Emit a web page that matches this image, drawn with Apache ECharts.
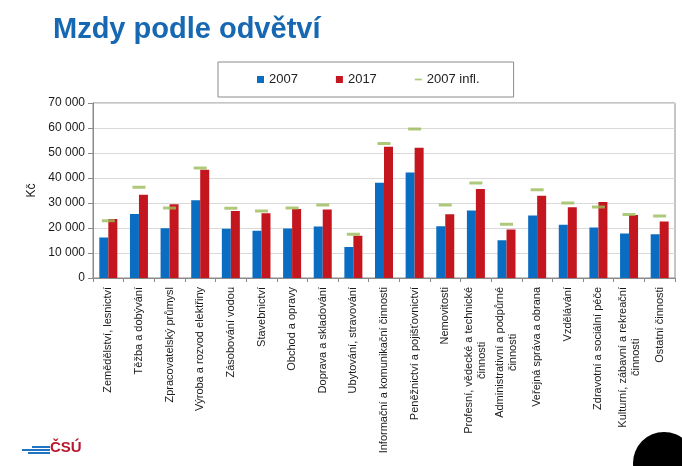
<!DOCTYPE html>
<html>
<head>
<meta charset="utf-8">
<script src="https://cdn.jsdelivr.net/npm/echarts@6/dist/echarts.min.js"></script>
<style>
  html, body { margin: 0; padding: 0; background: #fff; }
  #chart { width: 682px; height: 466px; }
</style>
</head>
<body>
<div id="chart"></div>
<script>
// odvětví
var categories = [
  'Zemědělství, lesnictví', 'Těžba a dobývání', 'Zpracovatelský průmysl',
  'Výroba a rozvod elektřiny', 'Zásobování vodou', 'Stavebnictví',
  'Obchod a opravy', 'Doprava a skladování', 'Ubytování, stravování',
  'Informační a komunikační činnosti', 'Peněžnictví a pojišťovnictví', 'Nemovitosti',
  'Profesní, vědecké a technické\nčinnosti', 'Administrativní a podpůrné\nčinnosti',
  'Veřejná správa a obrana', 'Vzdělávání', 'Zdravotní a sociální péče',
  'Kulturní, zábavní a rekreační\nčinnosti', 'Ostatní činnosti'
];
var mzdy2007 = [16200, 25600, 19900, 31100, 19700, 18900, 19800, 20600, 12400,
  38100, 42200, 20700, 27000, 15100, 25000, 21300, 20200, 17800, 17500];
var mzdy2017 = [23600, 33300, 29500, 43300, 26800, 25900, 27600, 27400, 16900,
  52500, 52100, 25500, 35600, 19400, 32900, 28300, 30400, 25200, 22600];
var mzdy2007infl = [22900, 36300, 28000, 44000, 27900, 26800, 28000, 29200, 17500,
  53800, 59600, 29200, 38000, 21500, 35300, 30000, 28400, 25400, 24800];
var yTicks = [0, 10000, 20000, 30000, 40000, 50000, 60000, 70000];

var chart = echarts.init(document.getElementById('chart'));

function fmt(v) {
  // mezera jako oddělovač tisíců
  return String(v).replace(/\B(?=(\d{3})+(?!\d))/g, ' ');
}

var option = {
  animation: false,
  textStyle: { fontFamily: 'Liberation Sans, Arial, sans-serif' },
  title: {
    text: 'Mzdy podle odvětví',
    left: 48,
    top: 10,
    textStyle: { color: '#1668b2', fontSize: 29, fontWeight: 'bold' }
  },
  legend: {
    left: 218,
    top: 62,
    padding: [11, 34, 11, 39],
    borderColor: '#8a8a8a',
    borderWidth: 1,
    itemWidth: 7,
    itemHeight: 7,
    itemGap: 38,
    textStyle: { fontSize: 13, color: '#222' },
    data: [
      { name: '2007', icon: 'rect' },
      { name: '2017', icon: 'rect' },
      { name: '2007 infl.', icon: 'path://M0,0L8,0L8,2L0,2Z' }
    ]
  },
  grid: {
    left: 93,
    right: 7,
    top: 103,
    bottom: 188,
    show: true,
    borderColor: '#8a8a8a',
    borderWidth: 1
  },
  xAxis: {
    type: 'category',
    data: categories,
    axisLine: { lineStyle: { color: '#8a8a8a' } },
    axisTick: { show: true, length: 4, lineStyle: { color: '#8a8a8a' } },
    axisLabel: {
      interval: 0,
      rotate: 90,
      margin: 9,
      color: '#1a1a1a',
      fontSize: 11,
      formatter: function (v) {
        return v.split('\n').map(function (s) { return '{c|' + s + '}'; }).join('\n');
      },
      rich: { c: { align: 'center', fontSize: 11, lineHeight: 13, color: '#1a1a1a' } }
    }
  },
  yAxis: {
    type: 'value',
    min: yTicks[0],
    max: yTicks[yTicks.length - 1],
    interval: 10000,
    name: 'Kč',
    nameLocation: 'middle',
    nameGap: 49,
    nameRotate: 90,
    nameTextStyle: { color: '#1a1a1a', fontSize: 12 },
    axisLine: { show: true, lineStyle: { color: '#8a8a8a' } },
    axisTick: { show: true, length: 5, lineStyle: { color: '#8a8a8a' } },
    axisLabel: { color: '#1a1a1a', fontSize: 12, margin: 8, formatter: fmt },
    splitLine: { lineStyle: { color: '#d9d9d9' } }
  },
  series: [
    {
      name: '2007',
      type: 'bar',
      data: mzdy2007,
      barWidth: 9,
      barGap: '0%',
      itemStyle: { color: '#0a6dc2' }
    },
    {
      name: '2017',
      type: 'bar',
      data: mzdy2017,
      barWidth: 9,
      barGap: '0%',
      itemStyle: { color: '#c3161f' }
    },
    {
      name: '2007 infl.',
      type: 'scatter',
      data: mzdy2007infl,
      symbol: 'rect',
      symbolSize: [13, 3],
      itemStyle: { color: '#9bbb59' },
      z: 5
    }
  ],
  graphic: [
    // logo ČSÚ
    { type: 'rect', shape: { x: 32, y: 446, width: 18, height: 2 }, style: { fill: '#1f74c4' } },
    { type: 'rect', shape: { x: 22, y: 449, width: 28, height: 2 }, style: { fill: '#1f74c4' } },
    { type: 'rect', shape: { x: 28, y: 452, width: 22, height: 2 }, style: { fill: '#1f74c4' } },
    { type: 'text', left: 50, top: 440, style: { text: 'ČSÚ', fill: '#b8172f', font: 'bold 15px Liberation Sans, Arial, sans-serif' } },
    // černý kruh vpravo dole
    { type: 'circle', shape: { cx: 664, cy: 463, r: 31 }, style: { fill: '#000' } }
  ]
};

chart.setOption(option);
</script>
</body>
</html>
